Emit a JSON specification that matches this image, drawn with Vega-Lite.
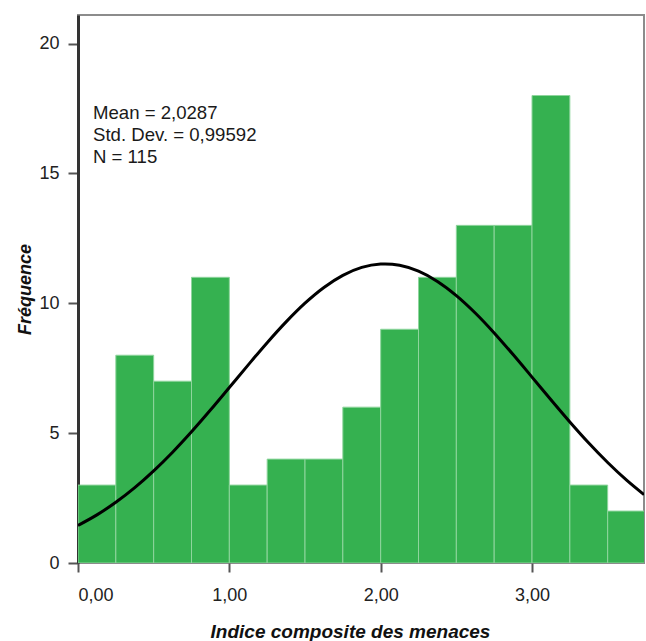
{
  "$schema": "https://vega.github.io/schema/vega-lite/v6.json",
  "width": 566,
  "height": 548,
  "autosize": "none",
  "padding": {"left": 78, "top": 15, "right": 2, "bottom": 78},
  "background": "white",
  "config": {
    "font": "Liberation Sans",
    "view": {"stroke": "#8c8c8c", "strokeWidth": 2}
  },
  "datasets": {
    "bins": [
      {"start": 0.0, "end": 0.25, "count": 3},
      {"start": 0.25, "end": 0.5, "count": 8},
      {"start": 0.5, "end": 0.75, "count": 7},
      {"start": 0.75, "end": 1.0, "count": 11},
      {"start": 1.0, "end": 1.25, "count": 3},
      {"start": 1.25, "end": 1.5, "count": 4},
      {"start": 1.5, "end": 1.75, "count": 4},
      {"start": 1.75, "end": 2.0, "count": 6},
      {"start": 2.0, "end": 2.25, "count": 9},
      {"start": 2.25, "end": 2.5, "count": 11},
      {"start": 2.5, "end": 2.75, "count": 13},
      {"start": 2.75, "end": 3.0, "count": 13},
      {"start": 3.0, "end": 3.25, "count": 18},
      {"start": 3.25, "end": 3.5, "count": 3},
      {"start": 3.5, "end": 3.75, "count": 2}
    ],
    "curve": [
      {"x": 0.0, "y": 1.447},
      {"x": 0.125, "y": 1.853},
      {"x": 0.25, "y": 2.337},
      {"x": 0.375, "y": 2.901},
      {"x": 0.5, "y": 3.546},
      {"x": 0.625, "y": 4.265},
      {"x": 0.75, "y": 5.051},
      {"x": 0.875, "y": 5.888},
      {"x": 1.0, "y": 6.756},
      {"x": 1.125, "y": 7.63},
      {"x": 1.25, "y": 8.484},
      {"x": 1.375, "y": 9.285},
      {"x": 1.5, "y": 10.004},
      {"x": 1.625, "y": 10.609},
      {"x": 1.75, "y": 11.075},
      {"x": 1.875, "y": 11.381},
      {"x": 2.0, "y": 11.512},
      {"x": 2.0287, "y": 11.517},
      {"x": 2.125, "y": 11.463},
      {"x": 2.25, "y": 11.236},
      {"x": 2.375, "y": 10.841},
      {"x": 2.5, "y": 10.297},
      {"x": 2.625, "y": 9.627},
      {"x": 2.75, "y": 8.86},
      {"x": 2.875, "y": 8.026},
      {"x": 3.0, "y": 7.158},
      {"x": 3.125, "y": 6.284},
      {"x": 3.25, "y": 5.43},
      {"x": 3.375, "y": 4.619},
      {"x": 3.5, "y": 3.868},
      {"x": 3.625, "y": 3.188},
      {"x": 3.74, "y": 2.632}
    ],
    "stats": [
      {"x": 0.099, "y": 17.1, "label": "Mean = 2,0287"},
      {"x": 0.099, "y": 16.25, "label": "Std. Dev. = 0,99592"},
      {"x": 0.099, "y": 15.4, "label": "N = 115"}
    ]
  },
  "layer": [
    {
      "data": {"name": "bins"},
      "mark": {"type": "rect", "fill": "#35b150", "stroke": "#8fd59d", "strokeWidth": 1, "clip": true},
      "encoding": {
        "x": {
          "field": "start", "type": "quantitative",
          "scale": {"domain": [0, 3.74], "nice": false, "zero": false},
          "axis": {
            "values": [0, 1, 2, 3],
            "labelExpr": "replace(format(datum.value, '.2f'), '.', ',')",
            "title": "Indice composite des menaces",
            "titleFont": "Liberation Sans",
            "titleFontSize": 19,
            "titleFontWeight": "bold",
            "titleFontStyle": "italic",
            "titleColor": "#111",
            "titleX": 272,
            "titleY": 74,
            "titleBaseline": "alphabetic",
            "titleAnchor": "middle",
            "labelFontSize": 18,
            "labelColor": "#222",
            "labelPadding": 14,
            "tickSize": 9,
            "tickWidth": 2,
            "tickColor": "#555",
            "domain": false,
            "grid": false
          }
        },
        "x2": {"field": "end"},
        "y": {
          "field": "count", "type": "quantitative",
          "scale": {"domain": [0, 21.1], "nice": false},
          "axis": {
            "values": [0, 5, 10, 15, 20],
            "title": "Fréquence",
            "titleFont": "Liberation Sans",
            "titleFontSize": 18,
            "titleFontWeight": "bold",
            "titleFontStyle": "italic",
            "titleColor": "#111",
            "titlePadding": 4,
            "labelFontSize": 18,
            "labelColor": "#222",
            "labelPadding": 9,
            "tickSize": 10,
            "tickWidth": 2,
            "tickColor": "#555",
            "domainColor": "#333",
            "domainWidth": 3,
            "grid": false
          }
        },
        "y2": {"datum": 0}
      }
    },
    {
      "data": {"name": "curve"},
      "mark": {"type": "line", "color": "#000", "strokeWidth": 3, "clip": true, "interpolate": "monotone"},
      "encoding": {
        "x": {"field": "x", "type": "quantitative"},
        "y": {"field": "y", "type": "quantitative"}
      }
    },
    {
      "data": {"name": "stats"},
      "mark": {"type": "text", "align": "left", "baseline": "alphabetic", "fontSize": 18.6, "font": "Liberation Sans", "color": "#1a1a1a"},
      "encoding": {
        "x": {"field": "x", "type": "quantitative"},
        "y": {"field": "y", "type": "quantitative"},
        "text": {"field": "label"}
      }
    }
  ]
}
